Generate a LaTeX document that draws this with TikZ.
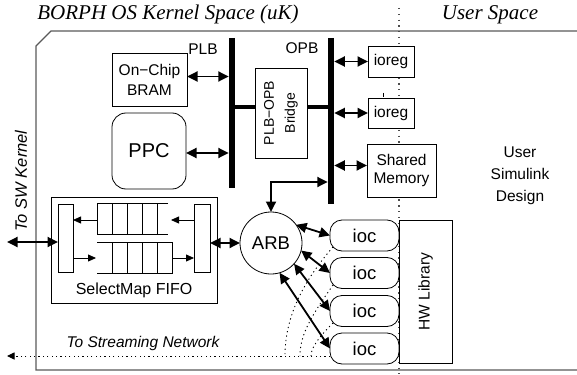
\documentclass[tikz,border=0pt]{standalone}
\usepackage{fontspec}
\setmainfont{Liberation Sans}
\newfontfamily\serifit{Liberation Serif}
\usetikzlibrary{arrows.meta,calc}
\begin{document}
\begin{tikzpicture}[x=1pt,y=-1pt,
  box/.style={draw, line width=0.8pt, fill=white, inner sep=0pt, outer sep=0pt, align=center, font=\fontsize{15.5}{20}\selectfont},
  txt/.style={inner sep=0pt, align=center, font=\fontsize{15.5}{20}\selectfont},
  ttl/.style={inner sep=0pt, font=\serifit\itshape\fontsize{21}{24}\selectfont},
  dbl/.style={line width=1.8pt, {Triangle[length=10.5pt,width=10pt]}-{Triangle[length=10.5pt,width=10pt]}},
  thinar/.style={line width=0.8pt, -{Triangle[length=8pt,width=7pt]}},
  bus/.style={line width=6.5pt},
  bridgeln/.style={line width=4pt},
  fifoln/.style={line width=0.8pt},
  divider/.style={dash pattern=on 1.3pt off 4.5pt, line width=1.1pt, black!70},
  outer/.style={line width=1.1pt, black!65},
  stream/.style={dash pattern=on 1.2pt off 3.2pt, line width=0.9pt}
]
\useasboundingbox (0,0) rectangle (577,374);

% titles
\node[ttl] (kt) at (168,14) {BORPH OS Kernel Space (uK)};
\node[ttl] (ut) at (490,15) {User Space};

% outer frame
\draw[outer] (577,31) -- (51,31) -- (36,46) -- (36,370) -- (577,370);

% divider
\coordinate (dvT) at (399,8);
\coordinate (dvB) at (399,374);
\draw[divider] (dvT) -- (dvB);

% buses
\coordinate (plbT) at (232,38);
\coordinate (plbB) at (232,188);
\coordinate (opbT) at (331,38);
\coordinate (opbB) at (331,204);
\draw[bus] (plbT) -- (plbB);
\draw[bus] (opbT) -- (opbB);
\node[txt] (plbl) at (203,49) {PLB};
\node[txt] (opbl) at (302,48) {OPB};

% PLB side
\node[box, minimum width=75pt, minimum height=53pt] (bram) at (149.5,79.5) {On−Chip\\BRAM};
\node[box, rounded corners=14pt, minimum width=74pt, minimum height=76pt, font=\fontsize{20}{24}\selectfont] (ppc) at (149,151) {PPC};
\node[box, minimum width=52pt, minimum height=90pt] (bridge) at (281,113) {};
\node[txt, rotate=90, font=\fontsize{14}{21}\selectfont] (bridgetxt) at (bridge) {PLB−OPB\\Bridge};

\draw[dbl, shorten >=3.25pt] ($(bram.east)+(0,-3)$) -- ($(bram.east -| plbT)+(0,-3)$);
\draw[dbl, shorten >=3.25pt] ($(ppc.east)+(0,2)$) -- ($(ppc.east -| plbT)+(0,2)$);
\draw[bridgeln] ($(bridge.west -| plbT)+(0,-6)$) -- ($(bridge.west)+(0,-6)$);
\draw[bridgeln] ($(bridge.east)+(0,-6)$) -- ($(bridge.east -| opbT)+(0,-6)$);

% OPB side
\node[box, minimum width=46pt, minimum height=31pt] (ioreg1) at (391,61.5) {ioreg};
\node[box, minimum width=46pt, minimum height=30pt] (ioreg2) at (391,113) {ioreg};
\node[box, minimum width=69pt, minimum height=53pt, font=\fontsize{15.5}{18}\selectfont] (shared) at (401.5,170.5) {Shared\\Memory};
\draw[line width=1.6pt] (383.5,93) -- (383.5,97);

\draw[dbl, shorten <=3.25pt] (ioreg1.west -| opbT) -- (ioreg1.west);
\draw[dbl, shorten <=3.25pt] (ioreg2.west -| opbT) -- (ioreg2.west);
\draw[dbl, shorten <=3.25pt] ($(shared.west -| opbT)+(0,-5)$) -- ($(shared.west)+(0,-5)$);

\node[txt, font=\fontsize{15.5}{22}\selectfont] (usd) at (520,176) {User\\Simulink\\Design};

% ARB
\node[box, circle, minimum size=62pt, font=\fontsize{18.5}{22}\selectfont] (arb) at (271,243) {ARB};
\coordinate (opbarb) at (331,182);
\draw[dbl, shorten <=3.25pt] (opbarb) -| (arb.north);

% SelectMap FIFO
\node[box, minimum width=166pt, minimum height=106pt] (fifo) at (134,250) {};
\node[txt, font=\fontsize{16}{20}\selectfont] (fifolbl) at (134,290) {SelectMap FIFO};
\node[box, minimum width=15pt, minimum height=68pt] (lin) at (65.5,238) {};
\node[box, minimum width=16pt, minimum height=68pt] (rin) at (202,238) {};
% upper fifo (open right)
\draw[fifoln] (168,203) -- (97,203) -- (97,234) -- (168,234);
\foreach \x in {112,127,142,157} \draw[fifoln] (\x,203) -- (\x,234);
% lower fifo (open left)
\draw[fifoln] (97,242) -- (172,242) -- (172,273) -- (97,273);
\foreach \x in {112,127,142,157} \draw[fifoln] (\x,242) -- (\x,273);
\coordinate (uq) at (171,220);
\coordinate (uqo) at (97,220);
\coordinate (lqi) at (96,258);
\coordinate (lqo) at (172,258);
\draw[thinar] (rin.west |- uq) -- (uq);
\draw[thinar] (uqo) -- (lin.east |- uqo);
\draw[thinar] (lin.east |- lqi) -- (lqi);
\draw[thinar] (lqo) -- (rin.west |- lqo);

\coordinate (swk) at (7,242);
\draw[dbl] (swk) -- (lin.west |- swk);
\draw[dbl] (rin.east |- arb.west) -- (arb.west);
\node[txt, rotate=90, font=\itshape\fontsize{16.5}{20}\selectfont] (swlbl) at (21,181) {To SW Kernel};

% ioc
\node[box, rounded corners=12pt, minimum width=69pt, minimum height=31pt, font=\fontsize{18.5}{22}\selectfont] (ioc1) at (364.5,235.5) {ioc};
\node[box, rounded corners=12pt, minimum width=69pt, minimum height=31pt, font=\fontsize{18.5}{22}\selectfont] (ioc2) at (364.5,273) {ioc};
\node[box, rounded corners=12pt, minimum width=69pt, minimum height=31pt, font=\fontsize{18.5}{22}\selectfont] (ioc3) at (364.5,311) {ioc};
\node[box, rounded corners=12pt, minimum width=69pt, minimum height=31pt, font=\fontsize{18.5}{22}\selectfont] (ioc4) at (364.5,348.5) {ioc};
\node[box, minimum width=53pt, minimum height=143pt] (hw) at (425.5,291.5) {};
\node[txt, rotate=90] (hwtxt) at (hw) {HW Library};

\draw[dbl] (arb.36) -- (ioc1.west);
\draw[dbl] (arb.-14) -- (ioc2.west);
\draw[dbl] (arb.-42) -- (ioc3.west);
\draw[dbl] (arb.-74) -- (ioc4.west);

% streaming network
\coordinate (s1) at (333,247);
\coordinate (s2) at (333,285);
\coordinate (s3) at (333,323);
\coordinate (sstart) at (330,356);
\coordinate (send) at (7,356);
\draw[stream] (s1) .. controls (300,285) and (285,320) .. (285,356);
\draw[stream] (s2) .. controls (310,318) and (300,335) .. (300,356);
\draw[stream] (s3) .. controls (318,338) and (311,348) .. (311,356);
\draw[stream, -{Triangle[length=7.5pt,width=7pt]}] (sstart) -- (send);
\node[txt, font=\itshape\fontsize{15.5}{20}\selectfont] (stlbl) at (143,343) {To Streaming Network};
\end{tikzpicture}
\end{document}
